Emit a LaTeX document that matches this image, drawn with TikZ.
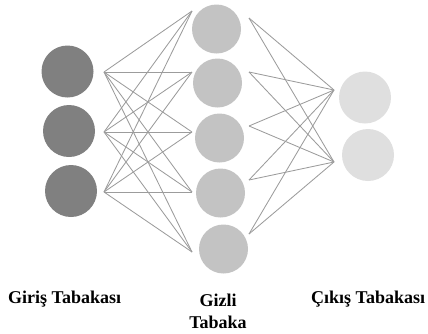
\documentclass[tikz,border=0pt]{standalone}
\usepackage{fontspec}
\setmainfont{Liberation Serif}
\definecolor{incol}{HTML}{808080}
\definecolor{hidcol}{HTML}{C3C3C3}
\definecolor{outcol}{HTML}{DFDFDF}
\definecolor{linkcol}{HTML}{9C9C9C}
\begin{document}
\begin{tikzpicture}[x=1pt,y=-1pt,
  neuron/.style={circle,draw=none,inner sep=0pt},
  inneuron/.style={neuron,fill=incol,minimum size=52pt},
  hidneuron/.style={neuron,fill=hidcol,minimum size=49pt},
  outneuron/.style={neuron,fill=outcol,minimum size=52pt},
  link/.style={draw=linkcol,line width=0.85pt},
  lbl/.style={font=\fontsize{18}{22}\selectfont\bfseries,inner sep=0pt}]
\useasboundingbox (0,0) rectangle (428,333);
% input layer
\node[inneuron] (i1) at (67.5,71.5) {};
\node[inneuron] (i2) at (69,131) {};
\node[inneuron] (i3) at (71,191) {};
% hidden layer
\node[hidneuron] (h1) at (216.5,29) {};
\node[hidneuron] (h2) at (217.5,83) {};
\node[hidneuron] (h3) at (219.5,138) {};
\node[hidneuron] (h4) at (220.5,193) {};
\node[hidneuron] (h5) at (223.5,249) {};
% output layer
\node[outneuron] (o1) at (365,97.5) {};
\node[outneuron] (o2) at (368,155) {};
% connector end points
\coordinate (i1r) at (104,72);
\coordinate (i2r) at (104,132);
\coordinate (i3r) at (104,192);
\coordinate (h1l) at (192,11);
\coordinate (h2l) at (192,72);
\coordinate (h3l) at (192,132);
\coordinate (h4l) at (192,192);
\coordinate (h5l) at (192,252);
\coordinate (h1r) at (249,18);
\coordinate (h2r) at (249,72);
\coordinate (h3r) at (249,126);
\coordinate (h4r) at (249,180);
\coordinate (h5r) at (249,234);
\coordinate (o1l) at (334,90);
\coordinate (o2l) at (334,162);
% links
\foreach \a in {1,2,3}{
  \foreach \b in {1,2,3,4,5}{
    \draw[link] (i\a r) -- (h\b l);
  }
}
\foreach \a in {1,2,3,4,5}{
  \foreach \b in {1,2}{
    \draw[link] (h\a r) -- (o\b l);
  }
}
% labels
\node[lbl,anchor=base west] (lin) at (8,303) {Giriş Tabakası};
\node[lbl,align=center] (lhid) at (218,311) {Gizli\\Tabaka};
\node[lbl,anchor=base west] (lout) at (311,303) {Çıkış Tabakası};
\end{tikzpicture}
\end{document}
